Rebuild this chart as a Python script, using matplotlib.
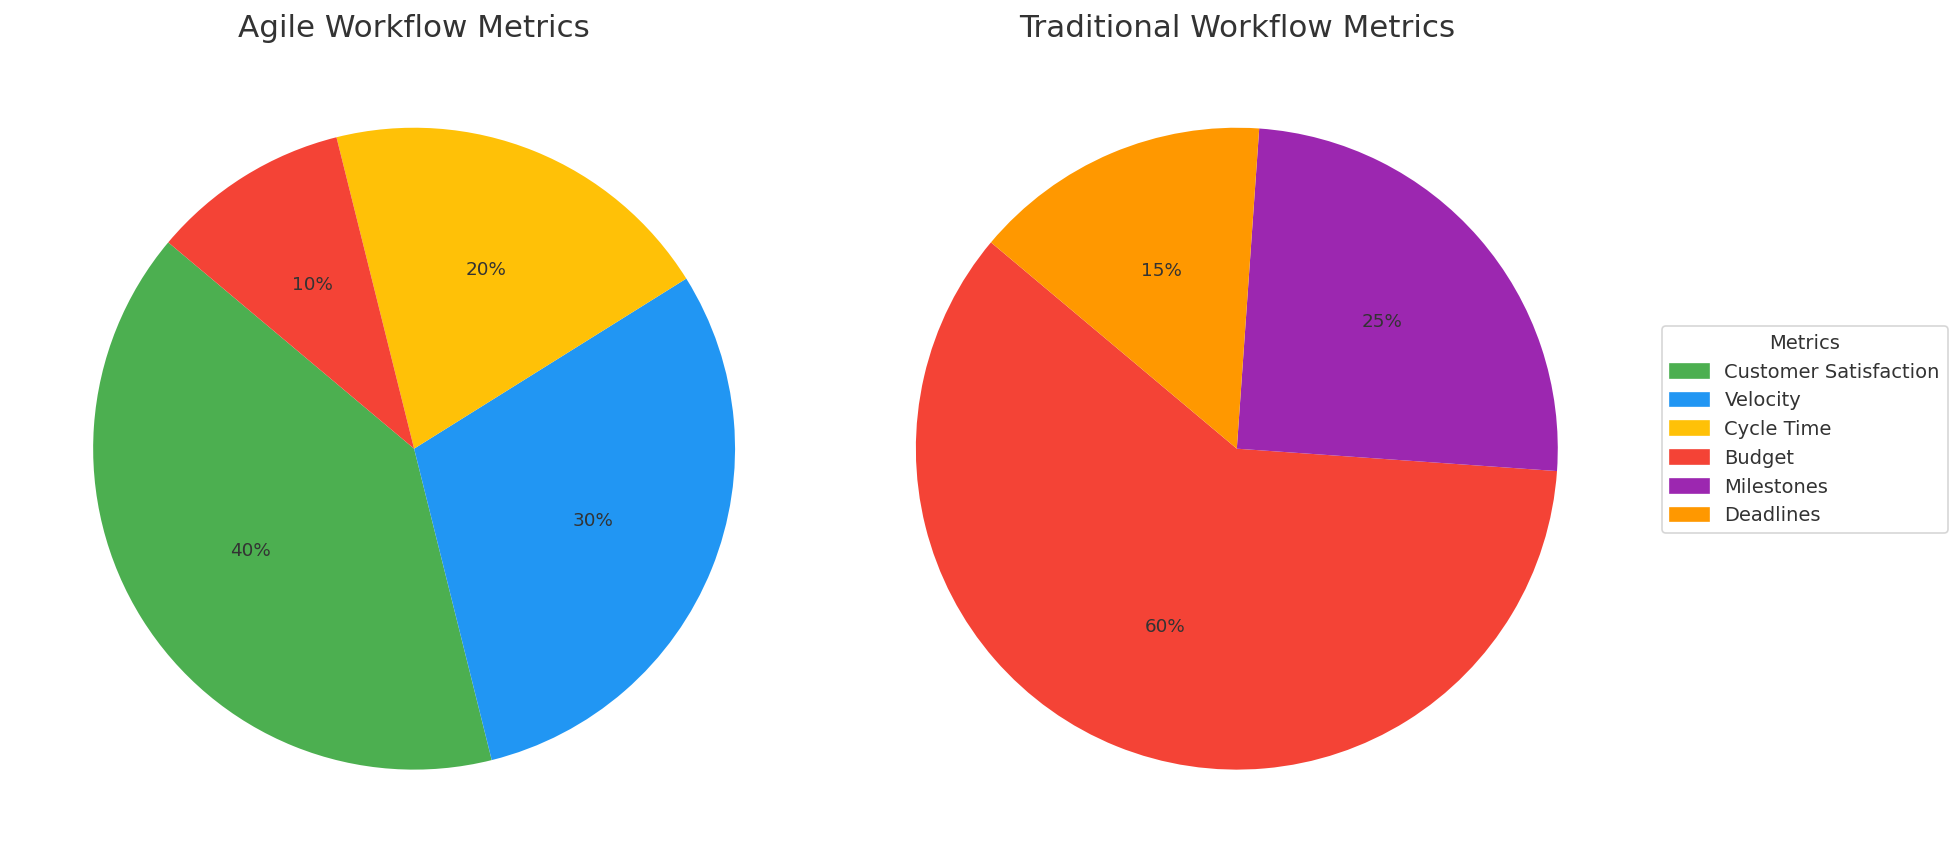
import matplotlib.pyplot as plt

# Workflow metric shares
agile_labels = ['Customer Satisfaction', 'Velocity', 'Cycle Time', 'Budget']
agile_values = [40, 30, 20, 10]
agile_colors = ['#4CAF50', '#2196F3', '#FFC107', '#F44336']

trad_labels = ['Budget', 'Milestones', 'Deadlines']
trad_values = [60, 25, 15]
trad_colors = ['#F44336', '#9C27B0', '#FF9800']

legend_labels = ['Customer Satisfaction', 'Velocity', 'Cycle Time', 'Budget', 'Milestones', 'Deadlines']
legend_colors = ['#4CAF50', '#2196F3', '#FFC107', '#F44336', '#9C27B0', '#FF9800']

text_color = '#333333'
plt.rcParams['font.family'] = ['DejaVu Sans']
plt.rcParams['text.color'] = text_color

fig = plt.figure(figsize=(1957 / 120, 864 / 120), dpi=120)
ax1 = fig.add_axes([0.0066, 0.0162, 0.410, 0.929])
ax2 = fig.add_axes([0.427, 0.0162, 0.410, 0.929])

ax1.pie(agile_values, colors=agile_colors, autopct='%1.0f%%', startangle=140,
        textprops={'fontsize': 11, 'color': text_color})
ax1.set_title('Agile Workflow Metrics', fontsize=18.6, color=text_color)

ax2.pie(trad_values, colors=trad_colors, autopct='%1.0f%%', startangle=140,
        textprops={'fontsize': 11, 'color': text_color})
ax2.set_title('Traditional Workflow Metrics', fontsize=18.6, color=text_color)

handles = [plt.Rectangle((0, 0), 1, 1, color=c) for c in legend_colors]
leg = fig.legend(handles, legend_labels, title='Metrics', loc='upper left',
                 bbox_to_anchor=(1662 / 1957, 1 - 326 / 864), borderaxespad=0,
                 fontsize=11.7, title_fontsize=11.7, frameon=True)
leg.get_frame().set_edgecolor('#cccccc')

fig.savefig('out.png', dpi=120)
